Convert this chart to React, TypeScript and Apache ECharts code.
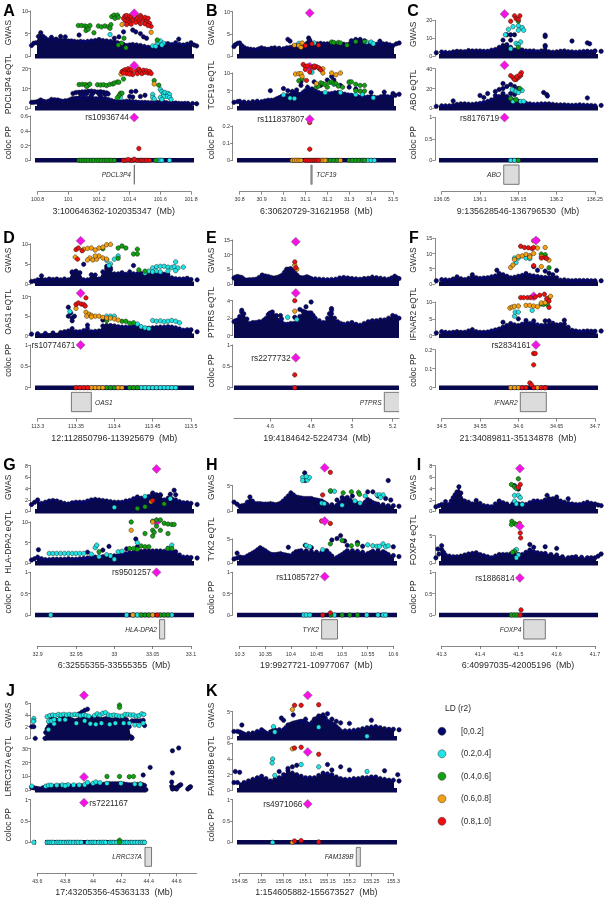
import React, { useEffect, useRef } from "react";
import * as echarts from "echarts";

const at0 = (xs: number[]) => xs.map((x) => [x, 0]);

// ---------- A ----------
const aGMass = [[100.76,2.4],[100.775,2.9],[100.79,3],[100.805,4.4],[100.82,5.2],[100.835,4.4],[100.85,4],[100.87,3.6],[100.89,4.2],[100.905,3.6],[100.92,3.8],[100.935,3.5],[100.95,4.4],[100.965,3.5],[100.98,4.3],[101,3.4],[101.02,3.4],[101.04,3.3],[101.06,3.2],[101.08,3.3],[101.1,3.2],[101.125,3.3],[101.15,3.4],[101.175,3.5],[101.2,3.7],[101.225,3.5],[101.25,3.4],[101.275,3.3],[101.3,3.2],[101.32,3],[101.34,2.8],[101.36,2.6],[101.38,2.4],[101.4,2.5],[101.42,2.6],[101.445,2.5],[101.47,2.4],[101.495,2.2],[101.52,2],[101.545,1.9],[101.57,1.8],[101.595,2.2],[101.62,2.6],[101.635,2.7],[101.65,2.8],[101.675,2.6],[101.7,3],[101.725,2.6],[101.75,2.5],[101.775,2.7],[101.8,3],[101.82,2.5],[101.837,2.3]];
const aGNavy = [[101.07,4.7],[101.36,5.4],[101.42,5.8],[101.44,5.4],[101.47,5],[101.49,4.3],[101.51,4],[101.3,4],[101.33,4.3],[101.72,3.8]];
const aGCyan = [[101.272,4.8],[101.55,2.3],[101.58,2.9],[101.6,3.4],[101.62,2.9],[101.61,2.5],[101.57,2.2]];
const aGGreen = [[101.065,6.8],[101.087,6.8],[101.109,6.7],[101.124,6.5],[101.141,6.8],[101.115,5.7],[101.13,6],[101.167,5.2],[101.196,6.7],[101.217,6.5],[101.239,6.7],[101.261,6.5],[101.278,7],[101.272,6.2],[101.283,8.75],[101.298,9.1],[101.32,9.1],[101.304,8.4],[101.326,8.6],[101.363,4],[101.348,2.9],[101.376,1.9],[101.326,2.5],[101.58,3.6]];
const aGOrange = [[101.35,7],[101.54,5.3]];
const aGRed = [[101.36,8.4],[101.37,8.9],[101.38,9],[101.39,8.2],[101.4,8.9],[101.37,7.9],[101.385,7.6],[101.4,7.4],[101.41,8.6],[101.42,8],[101.43,8.8],[101.44,9.1],[101.45,8.3],[101.46,7.7],[101.47,9],[101.48,8.5],[101.49,8],[101.5,8.6],[101.51,7.9],[101.52,8.4],[101.53,7.3],[101.54,6.6],[101.5,7.2],[101.47,7.2],[101.44,7.5],[101.41,7.1],[101.38,7],[101.52,6.8]];
const aGLead = [[101.43,9.5]];
const aEMass = [[100.76,3],[100.775,3.1],[100.79,3.2],[100.805,3.6],[100.82,4.2],[100.835,3.6],[100.85,3.3],[100.87,3.6],[100.89,4.5],[100.91,4.3],[100.93,4.2],[100.945,3.8],[100.96,3.6],[100.98,3.8],[101,4],[101.015,4.5],[101.03,5],[101.05,5.1],[101.07,5.2],[101.085,5],[101.1,5],[101.12,5.1],[101.14,5.2],[101.16,5],[101.18,4.8],[101.2,4.9],[101.22,5],[101.24,4.8],[101.26,4.5],[101.28,4],[101.3,3.5],[101.32,3.3],[101.34,3.2],[101.36,3.4],[101.38,3.6],[101.4,3.5],[101.42,3.4],[101.44,3.2],[101.46,3],[101.48,3],[101.5,3],[101.52,2.9],[101.54,2.8],[101.56,2.9],[101.58,3],[101.6,3.1],[101.62,3.2],[101.64,2.8],[101.66,2.5],[101.68,2.6],[101.7,2.7],[101.72,2.5],[101.74,2.4],[101.76,2.5],[101.78,2.5],[101.81,2.4],[101.837,2.3]];
const aENavy = [[101.03,7.5],[101.05,8],[101.07,8.1],[101.09,8.3],[101.11,8.4],[101.13,8.6],[101.15,8.7],[101.17,8.5],[101.19,8.2],[101.21,8.4],[101.23,8.1],[101.25,7.8],[101.26,7.3],[101.08,7.2],[101.12,7.4],[101.16,7.6],[101.2,7.3],[101.24,7],[101.1,6.5],[101.15,6.6],[101.21,6.5],[101.41,8.4],[101.44,8.6],[101.42,5.7],[101.47,6],[101.4,6],[101.5,6.6]];
const aECyan = [[101.6,9.5],[101.61,8.5],[101.62,7.5],[101.63,8],[101.65,7.5],[101.66,7],[101.64,6],[101.62,6],[101.6,5.5],[101.61,4.5],[101.66,5.5],[101.55,7],[101.55,5.5],[101.56,4.8],[101.34,5.5],[101.67,4.5]];
const aEGreen = [[101.07,12],[101.09,12.1],[101.11,12],[101.13,11.8],[101.14,12.2],[101.12,11],[101.19,11.9],[101.21,11.8],[101.23,11.9],[101.25,11.5],[101.27,12.1],[101.29,12.3],[101.3,12.8],[101.32,13.3],[101.33,13.2],[101.36,14.8],[101.34,7.6],[101.35,7.6],[101.33,6.4],[101.32,5.3],[101.56,14],[101.59,11.7]];
const aEOrange = [[101.56,12.3],[101.343,17.3]];
const aERed = [[101.35,18.5],[101.36,19],[101.37,19.5],[101.38,18.5],[101.39,20],[101.4,19],[101.41,18],[101.42,17],[101.44,19],[101.45,17.5],[101.46,19.8],[101.47,18.5],[101.48,17.5],[101.49,19.2],[101.5,18.2],[101.51,19],[101.52,17.8],[101.53,18.6],[101.54,17.6],[101.38,17.5],[101.4,17.3],[101.36,17.8],[101.41,19.8]];
const aELead = [[101.43,21.6]];
const aCGreen = at0([101.07,101.085,101.1,101.115,101.13,101.15,101.165,101.185,101.2,101.215,101.235,101.25,101.265,101.28,101.3,101.57]);
const aCCyan = at0([101.585,101.6,101.61,101.66]);
const aCRed = [...at0([101.36,101.375,101.405,101.42,101.45,101.47,101.48,101.495,101.51,101.53]),[101.39,0.012],[101.43,0.015],[101.46,0.16]];
const aCLead = [[101.43,0.58]];

// ---------- B ----------
const bGMass = [[30.774,2.2],[30.78,2.6],[30.79,2.9],[30.8,3],[30.81,2.4],[30.82,2],[30.835,1.7],[30.85,1.6],[30.865,1.5],[30.88,1.5],[30.89,1.7],[30.9,1.9],[30.915,1.7],[30.93,1.6],[30.945,1.8],[30.96,1.9],[30.98,1.8],[31,1.7],[31.015,1.9],[31.03,2],[31.045,2.2],[31.06,2.4],[31.075,2.5],[31.09,2.5],[31.105,2.8],[31.115,3.2],[31.13,2.9],[31.14,2.7],[31.155,2.8],[31.17,2.9],[31.185,2.8],[31.2,2.8],[31.215,2.9],[31.23,2.9],[31.245,2.8],[31.26,2.8],[31.275,2.7],[31.29,2.6],[31.305,2.9],[31.32,3.2],[31.335,3.2],[31.35,3.3],[31.365,3.1],[31.38,2.9],[31.395,2.7],[31.41,2.6],[31.425,2.7],[31.44,2.7],[31.455,2.8],[31.47,2.8],[31.485,2.6],[31.5,2.4],[31.515,2.8],[31.528,3]];
const bGNavy = [[31.02,3.8],[31.03,3.4],[31.115,4.1],[31.12,3.6],[31.31,3.5],[31.33,3.8],[31.35,3.8],[31.37,3.5],[31.44,3.4]];
const bGCyan = [[31.07,2.9],[31.14,3],[31.38,3.2],[31.4,3.2],[31.41,2.8]];
const bGGreen = [[31.22,3.2],[31.23,3.1],[31.25,3.1],[31.26,3],[31.29,2.5],[31.33,3.3],[31.37,3.3]];
const bGOrange = [[31.05,2.5],[31.07,2.4],[31.085,3],[31.08,2]];
const bGRed = [[31.1,2.4],[31.13,2.8],[31.16,2.5]];
const bGLead = [[31.12,9.7]];
const bEMass = [[30.774,1.7],[30.79,1.9],[30.8,2],[30.82,1.8],[30.84,1.7],[30.86,1.9],[30.88,2],[30.9,1.9],[30.915,2.1],[30.93,2.3],[30.945,2.3],[30.96,2.4],[30.97,2.7],[30.98,3],[30.99,3.3],[31,3.5],[31.015,3.6],[31.03,3.7],[31.04,4],[31.05,4.3],[31.065,4.1],[31.08,4],[31.09,4.5],[31.1,5],[31.115,5.2],[31.13,5.5],[31.145,5],[31.16,4.5],[31.175,4.2],[31.19,4],[31.205,4.1],[31.22,4.2],[31.235,4.4],[31.25,4.5],[31.265,4.2],[31.28,4],[31.295,3.8],[31.31,3.7],[31.325,3.5],[31.34,3.3],[31.355,3.2],[31.37,3.1],[31.385,3.2],[31.4,3.3],[31.415,3.1],[31.43,3],[31.445,3.3],[31.46,3.5],[31.475,3.3],[31.49,3.2],[31.51,3.7],[31.528,4]];
const bENavy = [[30.94,5],[31,5.6],[31.02,5],[31.04,4.8],[31.06,5.2],[31.08,6.5],[31.08,7.5],[31.11,6],[31.14,7.5],[31.2,8],[31.22,9],[31.23,8],[31.17,6.5],[31.26,6.5],[31.3,6],[31.33,5.5],[31.4,4.5],[31.46,4.6],[31.5,4.2]];
const bECyan = [[31,3.8],[31.03,2.9],[31.05,2.8],[31.13,10.2],[31.19,4.5],[31.3,7.5],[31.23,6.8],[31.26,4.5],[31.33,3.9],[31.36,4],[31.41,3]];
const bEGreen = [[31.07,7.8],[31.085,8.4],[31.15,6],[31.16,6.3],[31.17,7.2],[31.18,7],[31.19,6.7],[31.2,6],[31.21,7.3],[31.22,7.5],[31.23,7.1],[31.24,7],[31.25,6.3],[31.3,7.3],[31.31,7.5],[31.33,6.8],[31.35,6.5],[31.37,6.5],[31.35,4.9],[31.33,5],[31.37,4.9],[31.27,6]];
const bEOrange = [[31.055,9.7],[31.07,9.8],[31.08,9.8],[31.085,9],[31.165,11.2],[31.18,11.2],[31.18,10],[31.22,10],[31.24,9.5],[31.26,10],[31.15,7]];
const bERed = [[31.09,12.4],[31.1,11.8],[31.11,12],[31.13,11.7],[31.14,11.5],[31.15,11.8],[31.16,11.5],[31.17,10.9],[31.1,11],[31.12,10.3],[31.105,7.9],[31.14,12]];
const bELead = [[31.12,11.8]];
const bCOrange = at0([31.04,31.05,31.06,31.07,31.08,31.17,31.18,31.19,31.26]);
const bCRed = [...at0([31.1,31.11,31.12,31.13,31.14,31.15,31.16]),[31.12,0.065],[31.12,0.22]];
const bCGreen = at0([31.2,31.215,31.23,31.245,31.3,31.315,31.33,31.345,31.36,31.37]);
const bCCyan = at0([31.385,31.4,31.415]);
const bCLead = [[31.12,0.24]];

// ---------- C ----------
const cGMass = [[136.043,2],[136.05,2.4],[136.055,2.2],[136.06,2],[136.065,2.5],[136.07,2.8],[136.075,2.7],[136.08,2.6],[136.085,3.2],[136.09,3],[136.095,3],[136.1,3],[136.105,2.8],[136.11,2.8],[136.115,3.4],[136.12,3.8],[136.125,5],[136.13,6],[136.135,6.5],[136.14,5],[136.145,3.5],[136.15,4],[136.155,3.5],[136.16,3],[136.165,3],[136.17,3],[136.175,2.6],[136.18,3],[136.185,3.5],[136.19,2.5],[136.195,2.3],[136.2,2.5],[136.205,2.8],[136.21,3],[136.215,2.6],[136.22,2.5],[136.225,2.3],[136.23,2.5],[136.235,2.7],[136.24,2.8],[136.245,2.6],[136.25,3],[136.258,2.8]];
const cGNavy = [[136.185,11],[136.185,11.8],[136.185,6],[136.185,5.5],[136.22,8.5],[136.24,7.5],[136.243,7],[136.13,9],[136.135,12],[136.14,12],[136.145,12],[136.14,9]];
const cGCyan = [[136.133,12],[136.137,15],[136.143,16.5],[136.15,17],[136.155,16],[136.157,14.5],[136.15,14.5],[136.147,7.2],[136.153,8],[136.14,4.2],[136.15,6.5]];
const cGGreen = [[136.15,19.5],[136.15,5]];
const cGRed = [[136.14,19.5],[136.145,22.5],[136.147,21],[136.152,22.5],[136.15,20.5]];
const cGLead = [[136.132,23.5]];
const cEMass = [[136.043,2],[136.05,2.5],[136.055,2.5],[136.06,2.5],[136.065,3],[136.07,4],[136.075,4.5],[136.08,4.5],[136.085,4.2],[136.09,4],[136.095,4.5],[136.1,5],[136.105,6],[136.11,7],[136.115,8.5],[136.12,10],[136.125,12],[136.13,15],[136.135,12],[136.14,10],[136.145,8],[136.15,7],[136.155,5],[136.16,5],[136.165,4.5],[136.17,4],[136.175,4.2],[136.18,4.5],[136.185,4.5],[136.19,4.5],[136.195,4],[136.2,3.5],[136.205,3.5],[136.21,3.5],[136.215,3.2],[136.22,3],[136.225,3.2],[136.23,3.5],[136.235,3.2],[136.24,3],[136.245,2.8],[136.25,2.5],[136.258,3]];
const cENavy = [[136.065,7.5],[136.1,13],[136.11,15],[136.105,11],[136.12,17],[136.13,20],[136.13,25],[136.125,19],[136.135,22],[136.14,24],[136.145,22],[136.15,20],[136.12,13],[136.115,8],[136.145,14],[136.183,16],[136.187,14],[136.188,12.5],[136.24,10.5],[136.14,15],[136.13,10]];
const cECyan = [[136.142,19],[136.155,18],[136.147,17],[136.15,16],[136.147,9],[136.153,7],[136.143,7],[136.157,7],[136.14,10]];
const cEGreen = [[136.152,20],[136.14,10],[136.147,8.5]];
const cERed = [[136.14,33],[136.143,31],[136.147,29],[136.15,31],[136.153,33],[136.154,36],[136.145,29],[136.148,32],[136.152,34]];
const cELead = [[136.132,43.5]];
const cCCyan = at0([136.14,136.145]);
const cCGreen = at0([136.15]);
const cCLead = [[136.132,0.995]];

// ---------- D ----------
const dGMass = [[113.292,0.6],[113.296,0.7],[113.3,1],[113.305,2],[113.31,1],[113.315,1.2],[113.32,1.1],[113.325,1.2],[113.33,1],[113.335,1.2],[113.34,1],[113.345,2.8],[113.35,3],[113.355,2.8],[113.36,1],[113.365,1],[113.37,2.3],[113.375,2.2],[113.38,1.2],[113.385,3],[113.39,3.8],[113.395,3.5],[113.4,2.5],[113.405,2.5],[113.41,2.8],[113.415,2.4],[113.42,3],[113.425,2.5],[113.43,2.5],[113.435,2.6],[113.44,2.8],[113.445,3],[113.45,2.8],[113.455,2.5],[113.46,2.6],[113.465,2.4],[113.47,2.3],[113.475,1.5],[113.48,1.3],[113.485,1.2],[113.49,1.2],[113.495,1.4],[113.5,1.1],[113.508,1]];
const dGNavy = [[113.35,3.2],[113.345,3],[113.36,4.9],[113.39,4.4],[113.395,4],[113.425,4.6]];
const dGCyan = [[113.39,5.9],[113.4,6.2],[113.405,7],[113.395,5],[113.393,4.6],[113.44,2.7],[113.445,3.2],[113.45,4],[113.455,4.3],[113.46,4.4],[113.465,4.4],[113.47,4.2],[113.475,4.1],[113.478,4.3],[113.48,5.5],[113.483,4],[113.49,4.2],[113.455,3.2],[113.46,3],[113.47,3.2],[113.48,3.3],[113.45,3]];
const dGGreen = [[113.385,8.8],[113.405,9],[113.41,9.5],[113.415,9],[113.405,6.4],[113.425,7.5],[113.43,8.7],[113.43,7.5],[113.432,3.5],[113.44,3.2]];
const dGOrange = [[113.349,6.7],[113.36,8.7],[113.365,8.9],[113.37,9],[113.375,8.5],[113.38,9],[113.385,9.2],[113.39,9.8],[113.395,9.9],[113.368,6.5],[113.372,6],[113.377,6.2],[113.38,7],[113.385,6.5],[113.365,6],[113.375,7],[113.39,6.2]];
const dGRed = [[113.35,8.6],[113.353,9],[113.358,8.3],[113.352,6.2]];
const dGLead = [[113.356,10.8]];
const dEMass = [[113.292,0.4],[113.3,0.5],[113.31,0.6],[113.32,0.7],[113.33,0.8],[113.335,1],[113.34,1.2],[113.345,1.8],[113.35,1],[113.355,1],[113.36,1.3],[113.365,1.8],[113.37,1],[113.375,1.1],[113.38,1.2],[113.385,2.5],[113.39,2.6],[113.395,2.6],[113.4,2.5],[113.405,2.3],[113.41,2.2],[113.415,2.2],[113.42,2.2],[113.425,2.4],[113.43,2.5],[113.435,2.1],[113.44,1.8],[113.445,1.9],[113.45,2],[113.455,2.1],[113.46,2.2],[113.465,2.2],[113.47,2.3],[113.475,2.2],[113.48,2],[113.485,1.7],[113.49,1.4],[113.495,1.5],[113.5,1.5],[113.508,1]];
const dENavy = [[113.34,7.3],[113.34,5],[113.343,5.8],[113.348,5],[113.345,3.8],[113.345,4.5],[113.365,2.7],[113.385,4],[113.39,4.5]];
const dECyan = [[113.342,6.2],[113.39,5],[113.395,5],[113.4,5],[113.43,3],[113.435,2.3],[113.44,2],[113.445,1.8],[113.45,3.9],[113.455,3.7],[113.46,3.8],[113.465,3.6],[113.47,3.7],[113.475,3.9],[113.48,3.7],[113.485,3.3]];
const dEGreen = [[113.39,3.8],[113.41,3.7],[113.415,3.7],[113.42,3.2],[113.425,3.3]];
const dEOrange = [[113.35,7],[113.363,6],[113.367,5.5],[113.37,5.2],[113.375,5],[113.38,5],[113.385,4.7],[113.39,4.5],[113.395,4.5],[113.4,4.3],[113.405,4],[113.364,5],[113.37,4.8]];
const dERed = [[113.35,8],[113.353,8.4],[113.357,8.1],[113.36,8],[113.362,7.6],[113.363,9.7]];
const dELead = [[113.356,10.9]];
const dCRed = at0([113.35,113.355,113.36,113.365]);
const dCOrange = at0([113.37,113.375,113.38,113.385,113.405,113.41]);
const dCGreen = at0([113.39,113.395,113.4,113.42,113.425,113.43]);
const dCCyan = at0([113.435,113.44,113.445,113.45,113.455,113.46,113.465,113.47,113.475,113.48]);
const dCLead = [[113.356,1]];

// ---------- E ----------
const eGMass = [[4.422,2],[4.43,2.3],[4.44,2.5],[4.45,2.3],[4.46,2.2],[4.47,1.6],[4.48,1.2],[4.49,1.3],[4.5,1.4],[4.515,1.5],[4.53,1.6],[4.545,2.2],[4.56,3],[4.575,2.7],[4.59,2.5],[4.605,2.2],[4.62,2],[4.63,2.1],[4.64,2.3],[4.65,2.6],[4.66,3],[4.67,4],[4.68,5],[4.69,5],[4.7,5.2],[4.71,4.5],[4.72,3.8],[4.73,3],[4.74,2.3],[4.75,2.1],[4.76,2],[4.77,2.2],[4.78,2.4],[4.79,2.1],[4.8,1.8],[4.82,1.7],[4.84,1.6],[4.86,1.5],[4.88,1.4],[4.9,1.5],[4.92,1.6],[4.94,2],[4.96,2.2],[4.98,2],[5,1.8],[5.02,1.7],[5.04,1.6],[5.06,1.8],[5.08,1.9],[5.1,2.3],[5.12,2.1],[5.14,1.9],[5.16,1.7],[5.18,1.6],[5.195,2],[5.21,2.6],[5.22,2.1],[5.231,1.8]];
const eGOrange = [[4.72,6.4],[4.73,5]];
const eGRed = [[4.72,14.5],[4.72,7.5],[4.725,5.5]];
const eGLead = [[4.725,14.4]];
const eEMass = [[4.422,1.6],[4.43,1.7],[4.44,1.8],[4.45,2.2],[4.46,2.7],[4.47,2.5],[4.485,1.9],[4.5,1.4],[4.515,1.5],[4.53,1.5],[4.545,1.6],[4.56,1.6],[4.57,1.8],[4.58,2],[4.59,2.4],[4.6,2.6],[4.61,2.4],[4.62,2.2],[4.63,1.9],[4.64,1.7],[4.655,1.5],[4.67,1.3],[4.685,1.3],[4.7,1.4],[4.715,1.4],[4.73,1.5],[4.745,2.2],[4.76,2.8],[4.77,2.7],[4.78,2.6],[4.79,2.6],[4.8,2.6],[4.81,2.3],[4.82,2],[4.84,1.7],[4.86,1.5],[4.88,2],[4.9,2.5],[4.915,2],[4.93,1.6],[4.945,1.4],[4.96,1.3],[4.98,1.4],[5,1.5],[5.02,1.3],[5.04,1.2],[5.06,1.4],[5.08,1.6],[5.1,1.7],[5.12,1.7],[5.14,1.8],[5.16,1.8],[5.18,2],[5.2,2.3],[5.215,2.2],[5.231,2]];
const eENavy = [[4.61,2.7],[4.595,2.5],[4.63,2.3],[4.65,2.3],[4.655,1.9],[4.72,2.1],[4.745,3],[4.775,3.3],[4.8,3.85],[4.9,3.1],[4.9,2.9],[4.89,2.5],[4.46,2.9]];
const eECyan = [[4.685,2.1],[4.73,1.85]];
const eEOrange = [[4.72,2.8]];
const eERed = [[4.72,4]];
const eELead = [[4.725,4.88]];
const eCRed = [[4.72,0],[4.72,0.3]];
const eCLead = [[4.725,0.7]];

// ---------- F ----------
const fGMass = [[34.493,1],[34.5,1.4],[34.505,1.3],[34.51,1.2],[34.515,1.6],[34.52,2.3],[34.525,1.7],[34.53,1.4],[34.535,1.8],[34.54,2.3],[34.545,2],[34.55,1.8],[34.555,1.9],[34.56,2],[34.565,2.3],[34.57,2.6],[34.575,3.4],[34.58,3],[34.585,2.5],[34.59,2],[34.595,2.2],[34.6,2.5],[34.605,2.8],[34.61,3],[34.615,2.8],[34.62,2.6],[34.625,2.4],[34.63,2.2],[34.635,2.1],[34.64,2],[34.645,2],[34.65,2],[34.655,1.2],[34.66,1.3],[34.665,1.1],[34.67,1],[34.675,1.1],[34.68,1.1],[34.685,1.1],[34.69,1.1],[34.695,1],[34.7,1],[34.708,1]];
const fGNavy = [[34.572,4.5],[34.54,3],[34.625,4.5],[34.635,4.2],[34.64,3.5],[34.645,3],[34.65,4.4],[34.61,3.4],[34.62,5.7]];
const fGCyan = [[34.595,8.5],[34.597,7],[34.6,8.5],[34.61,8.5],[34.615,8.3]];
const fGGreen = [[34.63,9.8],[34.635,9.6],[34.64,5.3]];
const fGOrange = [[34.59,5.4],[34.593,6.2],[34.595,8],[34.6,9],[34.605,9.2],[34.61,9.7],[34.615,9.3],[34.62,10],[34.625,11.8],[34.635,12],[34.63,9],[34.64,7.8],[34.63,5.7],[34.615,8.8]];
const fGRed = [[34.603,12.4],[34.608,12],[34.613,11.9],[34.618,11.6],[34.62,14.2],[34.625,14.4],[34.62,6],[34.63,8.5],[34.635,8.6],[34.637,8.4],[34.62,12]];
const fGLead = [[34.623,14.3]];
const fEMass = [[34.493,0.8],[34.5,1.2],[34.505,1],[34.51,0.9],[34.515,1],[34.52,1.2],[34.525,1],[34.53,1],[34.535,1.4],[34.54,1.8],[34.545,1.2],[34.55,1],[34.555,1],[34.56,1.1],[34.565,1.4],[34.57,1.7],[34.575,2],[34.58,2.5],[34.585,3],[34.59,3.6],[34.595,3.2],[34.6,3],[34.605,3.4],[34.61,3.8],[34.615,3.6],[34.62,3.5],[34.625,3.2],[34.63,3],[34.635,3.1],[34.64,3.2],[34.645,3.2],[34.65,3.2],[34.655,3.3],[34.66,3.5],[34.665,2.5],[34.67,1.6],[34.675,1.4],[34.68,1.2],[34.685,1.3],[34.69,1.4],[34.695,1.3],[34.7,1.3],[34.708,1.4]];
const fENavy = [[34.58,4],[34.6,5],[34.61,4.5],[34.62,4.4],[34.635,4.4],[34.64,4.4],[34.66,4.6],[34.645,3.7]];
const fECyan = [[34.595,5.8],[34.596,7],[34.6,7],[34.618,7.5]];
const fEGreen = [[34.63,9.4],[34.633,9.3],[34.638,9.2]];
const fEOrange = [[34.589,8.2],[34.592,8.5],[34.595,8.7],[34.6,8.8],[34.61,9],[34.615,9],[34.62,8.8],[34.63,9.7],[34.64,11.2],[34.642,11.7],[34.635,9.8],[34.625,8.6]];
const fERed = [[34.603,11.3],[34.607,11.3],[34.612,11.3],[34.616,11.3],[34.622,11.5],[34.628,12],[34.634,12.3],[34.637,11],[34.64,10.3],[34.64,8.4]];
const fELead = [[34.62,11.7]];
const fCOrange = at0([34.59,34.595,34.6,34.625,34.635]);
const fCRed = [...at0([34.605,34.61,34.62,34.63,34.635]),[34.62,0.18],[34.622,0.18],[34.62,0.12],[34.615,0.025],[34.617,0.015]];
const fCLead = [[34.623,0.225]];

// ---------- G ----------
const gGMass = [[32.892,1.2],[32.896,1.6],[32.9,2],[32.905,1.4],[32.91,1.6],[32.915,1.8],[32.92,1.9],[32.925,1.8],[32.93,1.6],[32.935,1.4],[32.94,1.3],[32.945,1.5],[32.95,1.6],[32.955,1.6],[32.96,1.6],[32.965,1.8],[32.97,2],[32.975,2.1],[32.98,2],[32.985,1.9],[32.99,1.8],[32.995,1.7],[33,1.6],[33.005,1.6],[33.01,1.6],[33.015,1.8],[33.02,1.9],[33.025,2.2],[33.03,2.4],[33.035,2.3],[33.04,2.3],[33.045,2.6],[33.05,3],[33.055,2.9],[33.06,2.8],[33.065,2],[33.07,2.3],[33.075,2.2],[33.08,2],[33.085,1.7],[33.09,1.5],[33.095,1.5],[33.1,1.4],[33.108,1.2]];
const gGNavy = [[33.078,3.7],[33.073,3],[33.05,3.2],[33.06,2.9],[33.03,2.5],[33.08,2.9]];
const gGCyan = [[33.04,2.6],[33.073,2.2],[33,0.7]];
const gGGreen = [[33.04,0.8],[33.065,1.3],[33.03,0.5]];
const gGOrange = [[33.048,1.7]];
const gGRed = [[33.05,1.9]];
const gGLead = [[33.055,7.4]];
const gEMass = [[32.892,0.8],[32.896,1.1],[32.9,1.5],[32.905,1.1],[32.91,0.9],[32.915,0.9],[32.92,1],[32.925,1],[32.93,1],[32.935,1],[32.94,1.1],[32.945,1],[32.95,1],[32.955,1.1],[32.96,1.2],[32.965,1.3],[32.97,1.5],[32.975,1.5],[32.98,1.5],[32.985,1.6],[32.99,1.8],[32.995,1.8],[33,1.8],[33.005,1.9],[33.01,2],[33.015,2.3],[33.02,2.6],[33.025,2.7],[33.03,2.8],[33.035,2.9],[33.04,3],[33.045,3],[33.05,3],[33.055,3],[33.06,3],[33.065,2.9],[33.07,2.8],[33.075,2.8],[33.08,2.8],[33.085,2],[33.09,1.5],[33.095,1.5],[33.1,1.4],[33.108,1.3]];
const gENavy = [[32.901,3.3],[32.965,2.7],[32.985,3.2],[32.993,4.1],[33.016,3.5],[33.03,4],[33.028,5.9]];
const gECyan = [[32.915,2.4],[32.92,2.4],[32.925,2.4],[32.93,2.4],[32.935,2.4],[32.94,2.4],[32.945,2.4],[32.95,2.4],[32.955,2.4],[32.96,2.4],[32.97,2.2],[32.975,3.8],[32.977,4.4],[32.98,1.6],[32.99,2.1],[32.995,1.8],[33.005,2.8],[33.01,2.9],[33.03,5],[33.075,4.4],[33.07,3.6],[33,1]];
const gEGreen = [[33.022,10],[33.02,3.6],[33.025,3.6],[33.03,3.4],[33.035,4.2],[33.04,4],[33.045,4],[33.05,8],[33.052,7.5],[33.05,6.6],[33.055,9],[33.05,10.2],[33.055,10.5],[33.06,10.5],[33.065,9.7],[33.07,9.5],[33.075,9.4],[33.078,9.4],[33.07,7.2],[33.04,7.2],[33.06,8],[32.98,2.8],[33.07,3.6],[33.075,3.6]];
const gEOrange = [[33.022,8],[33.05,10]];
const gELead = [[33.055,10]];
const gCCyan = at0([32.917,33.016,33.025,33.03,33.075]);
const gCGreen = at0([33.035,33.04,33.045,33.06,33.065,33.07]);
const gCOrange = at0([33.024,33.05]);
const gCRed = at0([33.056]);
const gCLead = [[33.055,1]];

// ---------- H ----------
const hGMass = [[10.289,1.8],[10.295,1.4],[10.3,1],[10.305,1.1],[10.31,1.2],[10.315,1.8],[10.32,2.8],[10.325,2],[10.33,1.5],[10.335,1.5],[10.34,1.5],[10.345,1.4],[10.35,1.4],[10.355,1.4],[10.36,1.5],[10.365,1.4],[10.37,1.3],[10.375,1.4],[10.38,1.6],[10.385,2],[10.39,2.5],[10.395,3],[10.4,3.6],[10.405,3.2],[10.41,2.8],[10.415,2.7],[10.42,2.6],[10.425,2.5],[10.43,2.5],[10.435,2.5],[10.44,2.5],[10.445,2.3],[10.45,2.2],[10.455,2.1],[10.46,2],[10.465,1.7],[10.47,1.4],[10.48,1.3],[10.49,1.2],[10.495,1.6],[10.5,2],[10.505,2.4],[10.51,2.7],[10.515,2.2],[10.52,1.8],[10.53,1.5],[10.54,1.3],[10.545,1.8],[10.55,2.3],[10.555,2],[10.56,1.7],[10.565,1.5],[10.57,1.4],[10.58,1.3],[10.59,1.1],[10.6,1.1],[10.611,1]];
const hGNavy = [[10.427,7.5],[10.428,6],[10.49,2.2],[10.5,2.7],[10.52,3],[10.55,3.8],[10.56,3.8],[10.59,6],[10.585,2.5],[10.595,2.2],[10.57,3]];
const hGCyan = [[10.423,6.6],[10.423,6],[10.432,6.1],[10.436,6.6],[10.43,6.8],[10.478,3.9],[10.485,3.9],[10.46,1.6],[10.465,1.5],[10.5,1.2],[10.545,3],[10.568,3.2],[10.573,3.2],[10.58,3.2],[10.575,2.7],[10.525,2],[10.535,1.6]];
const hGGreen = [[10.477,4],[10.502,3.6],[10.518,3.8],[10.532,3.7],[10.534,3.3]];
const hGRed = [[10.477,7.6],[10.462,3.2]];
const hGLead = [[10.466,8.5]];
const hEMass = [[10.289,0.9],[10.295,1.1],[10.3,1.3],[10.305,1.2],[10.31,1.2],[10.315,1.5],[10.32,1.8],[10.325,2.1],[10.33,2.4],[10.335,2.8],[10.34,3.2],[10.345,2.9],[10.35,2.6],[10.355,2.2],[10.36,1.9],[10.365,1.8],[10.37,1.8],[10.375,1.9],[10.38,2],[10.385,1.8],[10.39,1.7],[10.395,1.6],[10.4,1.5],[10.405,2],[10.41,2.4],[10.415,2.5],[10.42,2.6],[10.43,2.6],[10.44,2.4],[10.45,2.3],[10.46,2.2],[10.465,2.4],[10.47,2.6],[10.475,2],[10.48,1.5],[10.49,1.2],[10.495,1.5],[10.5,1.8],[10.505,2.2],[10.51,2.6],[10.52,2.6],[10.53,2.5],[10.54,2.3],[10.55,2],[10.555,2.2],[10.56,2.5],[10.57,2.6],[10.58,2.4],[10.585,2.1],[10.59,1.8],[10.6,1.6],[10.611,1.4]];
const hENavy = [[10.295,2.1],[10.395,3.3],[10.428,3.7],[10.49,5.1],[10.497,5.7],[10.48,4.8],[10.51,3.7],[10.505,4.6],[10.53,4.3],[10.54,3.5],[10.6,3.4],[10.44,3.2]];
const hECyan = [[10.43,3.7],[10.437,3.4],[10.462,2.8],[10.55,3.8],[10.56,3.6],[10.568,3.5],[10.573,3.5],[10.58,4],[10.585,3.4],[10.59,3.6]];
const hEGreen = [[10.477,4],[10.5,4.7],[10.518,3.6],[10.53,3.9]];
const hERed = [[10.46,8.7],[10.477,8.2]];
const hELead = [[10.466,8.7]];
const hCCyan = at0([10.425,10.43,10.437,10.485,10.548,10.57,10.58,10.585]);
const hCGreen = at0([10.478,10.5,10.515,10.53]);
const hCRed = [[10.462,0],[10.477,0.05]];
const hCLead = [[10.466,0.9]];

// ---------- I ----------
const iGMass = [[41.285,0.8],[41.293,1],[41.3,1.2],[41.31,1.7],[41.32,1.2],[41.325,1.8],[41.33,2.4],[41.335,2.9],[41.34,3.4],[41.345,4.3],[41.35,3.2],[41.36,1.8],[41.37,1.6],[41.38,1.3],[41.39,1.9],[41.4,1.4],[41.41,1],[41.42,0.9],[41.43,0.8],[41.44,1.3],[41.45,1.8],[41.46,1.5],[41.47,1.3],[41.485,1.3],[41.5,1.3],[41.51,1.3],[41.52,1.2],[41.53,1.5],[41.54,1.8],[41.55,1.8],[41.56,1.7],[41.57,2],[41.58,2.2],[41.59,2.2],[41.6,2.1],[41.61,1.8],[41.62,1.6],[41.63,1.4],[41.64,1.3],[41.65,1.2],[41.66,1.2],[41.67,1.4],[41.68,1.6],[41.69,1.4],[41.7,1.3],[41.708,1.1],[41.716,1]];
const iGNavy = [[41.575,2.8],[41.6,2.5],[41.63,2.2],[41.49,4.5],[41.5,3.9]];
const iGCyan = [[41.49,2.8],[41.5,2.8],[41.505,2.4],[41.49,1.8],[41.495,1.3],[41.51,1.2]];
const iGGreen = [[41.482,4.7],[41.49,4.3],[41.5,5.7],[41.495,4]];
const iGRed = [[41.505,4.7],[41.5,4.2]];
const iGLead = [[41.504,7.5]];
const iEMass = [[41.285,1],[41.293,1.7],[41.3,2.5],[41.305,2],[41.31,1.5],[41.32,1.3],[41.33,1.2],[41.34,1.2],[41.35,1.3],[41.36,1.5],[41.37,1.7],[41.38,1.8],[41.39,1.9],[41.4,1.6],[41.41,1.4],[41.42,1.2],[41.43,1],[41.44,1.3],[41.45,1.6],[41.46,1.6],[41.47,1.6],[41.48,1.7],[41.49,1.7],[41.5,1.6],[41.51,1.6],[41.52,2],[41.53,2.4],[41.54,2.1],[41.55,1.9],[41.56,1.8],[41.57,1.8],[41.585,1.6],[41.6,1.5],[41.615,1.2],[41.63,1],[41.64,1.1],[41.65,1.2],[41.665,1.1],[41.68,1],[41.69,1],[41.7,1],[41.708,1.3],[41.716,1.7]];
const iENavy = [[41.3,3.2],[41.29,2.6],[41.53,3.4],[41.54,2.9],[41.57,3],[41.6,2.7]];
const iECyan = [[41.495,2.5],[41.5,1.5],[41.495,1]];
const iEGreen = [[41.483,7.6],[41.49,7.2],[41.482,7],[41.495,7],[41.49,2.2],[41.485,2]];
const iERed = [[41.503,7.2],[41.505,5.5],[41.506,4.6]];
const iELead = [[41.504,6.7]];
const iCGreen = at0([41.482,41.49,41.497]);
const iCRed = [[41.505,0],[41.507,0.12]];
const iCLead = [[41.504,0.87]];

// ---------- J ----------
const jGStrip = [[43.555,0],[43.582,0],[43.63,"-"],[43.655,0],[44.26,0]];
const jGMass = [[43.56,2],[43.575,2],[43.585,0],[43.655,0],[43.66,1],[43.67,1.6],[43.68,2],[43.69,2.6],[43.7,3.6],[43.71,3.4],[43.72,3.2],[43.73,3.1],[43.74,3],[43.75,3.1],[43.76,3.2],[43.77,3.3],[43.78,3.4],[43.79,3.4],[43.8,3.4],[43.81,3.4],[43.82,3.4],[43.83,3.3],[43.84,3.2],[43.85,3.1],[43.86,3],[43.87,3],[43.88,3],[43.89,3.1],[43.9,3.2],[43.91,3.3],[43.92,3.4],[43.93,3.4],[43.94,3.5],[43.95,3.4],[43.96,3.4],[43.97,3.4],[43.98,3.4],[43.99,3.4],[44,3.5],[44.01,3.4],[44.02,3.4],[44.03,3.3],[44.04,3.3],[44.05,3.2],[44.06,3.2],[44.07,3.2],[44.08,3.3],[44.09,3.3],[44.1,3.4],[44.11,3.3],[44.12,3.2],[44.13,3.1],[44.14,3],[44.15,3.1],[44.16,3.2],[44.17,3.2],[44.18,3.2],[44.19,3.2],[44.2,3.2],[44.21,3.2],[44.22,3.3],[44.23,3.2],[44.24,3.2],[44.25,2.8],[44.26,2],[44.27,0.3],[44.275,0]];
const jGNavy = [[43.9,4.2],[43.92,4.5],[43.94,4.8],[43.96,5],[44.28,0.1],[44.28,3],[44.3,3],[44.32,3],[44.34,3],[44.36,3.1],[44.37,2.2]];
const jGCyan = [[43.575,3.4],[43.575,3],[43.57,2.9],[43.67,3.7],[43.69,3.9],[43.71,4],[43.73,3.9],[43.75,4.1],[43.77,4],[43.79,4.1],[43.81,4],[43.83,4.1],[43.85,4],[43.87,4.1],[43.89,4],[43.91,3.9],[43.93,4],[43.95,3.9],[43.97,3.8],[44.01,3.9],[44.03,4.2],[44.05,4],[44.07,4.3],[44.09,4.4],[44.11,4],[44.13,3.9],[44.15,4],[44.17,3.9],[44.19,3.8],[44.21,3.8],[44.23,4.1],[44.25,4.1],[44.27,4],[44.29,4],[44.31,3.8],[44.33,3.9],[44.35,4.2],[44.365,4.1],[43.68,2.9],[43.7,3],[43.72,2.5],[43.68,1.5],[43.72,3.2],[43.76,3.2],[43.8,3.2],[43.88,2.6],[43.94,3],[43.98,2.5],[44.02,2.4],[44.06,2.6],[44.12,2.4],[44.16,2.6],[44.22,2.6],[44.26,2.6],[44.3,2.3],[44.33,2.2],[44.36,2.6]];
const jGGreen = [[44.19,5.7],[44.19,5.3]];
const jGLead = [[43.935,7.37]];
const jEStrip = [[43.559,0],[44.38,0]];
const jEMass = [[43.56,2],[43.575,1.8],[43.59,1.5],[43.605,1.2],[43.62,1],[43.64,1.8],[43.66,2.5],[43.68,2.8],[43.7,3],[43.72,3],[43.74,3],[43.76,3.2],[43.78,3.4],[43.8,3.2],[43.82,3],[43.84,3],[43.86,3],[43.88,3.1],[43.9,3.2],[43.92,3.3],[43.94,3.4],[43.96,3.5],[43.98,3.6],[44,3.7],[44.02,3.8],[44.04,3.9],[44.06,4],[44.08,4.4],[44.1,4.8],[44.12,4.8],[44.14,4.8],[44.16,4.8],[44.18,4.8],[44.2,4.7],[44.22,4.6],[44.24,4.3],[44.26,4],[44.28,4],[44.3,4],[44.32,4.2],[44.34,4.5],[44.355,4],[44.37,3.5],[44.38,0.5]];
const jENavy = [[44.36,11],[44.41,16.5],[44.57,28.5],[44.615,30.5],[44.57,12.5],[44.565,6],[44.565,3],[44.57,2],[44.58,1.5],[44.59,1.5],[44.6,2],[44.61,2.5],[44.62,3.5],[44.63,4],[44.68,1],[44.69,1.8],[44.7,2.6],[44.695,2.2],[44.57,1],[44.6,1]];
const jECyan = [[43.56,3],[43.66,3],[43.68,3.6],[43.7,3.7],[43.74,3.7],[43.78,3.8],[43.82,4],[43.86,3.8],[43.9,3.8],[43.94,4],[43.96,5.6],[44,5],[44.02,6],[44.05,5.5],[44.1,5],[44.2,5],[44.3,4.5],[43.8,3.2],[44.34,4.4]];
const jEGreen = [[44.1,10],[44.19,10],[44.26,9.8],[44.29,10]];
const jELead = [[43.935,9.6]];
const jCStrip = [[43.56,0],[43.59,0],[43.62,"-"],[43.655,0],[44.38,0]];
const jCCyan = at0([43.575,43.67,43.685,43.7,43.715,43.74,43.755,43.77,43.79,43.81,43.825,43.84,43.86,43.88,43.895,43.915,43.96,43.985,44,44.015,44.04,44.06,44.075,44.09,44.12,44.135,44.15,44.17,44.21,44.23,44.245,44.265,44.28,44.3,44.32,44.34,44.355,44.37]);
const jCGreen = [[44.19,0.05],[44.19,0]];
const jCLead = [[43.935,0.93]];

// ---------- K ----------
const kGMass = [[154.937,1.3],[154.945,1.3],[154.95,1.2],[154.955,1],[154.96,0.8],[154.97,0.9],[154.98,1],[154.99,1.3],[155,1.6],[155.005,1.3],[155.01,1],[155.02,1.2],[155.025,1.4],[155.03,1.6],[155.04,1.6],[155.05,1.6],[155.055,2],[155.06,2.5],[155.065,2.6],[155.07,2.8],[155.075,2.9],[155.08,3],[155.085,3.1],[155.09,3.2],[155.095,3.1],[155.1,3],[155.105,2.7],[155.11,2.5],[155.115,3],[155.12,3.6],[155.125,3.7],[155.13,3.8],[155.135,4.1],[155.14,4.4],[155.145,3.8],[155.15,3.2],[155.155,3],[155.16,2.8],[155.165,2.5],[155.17,2.2],[155.175,1.8],[155.18,1.4],[155.19,1.4],[155.2,1.4],[155.21,1.5],[155.22,1.6],[155.23,1.8],[155.24,2],[155.25,2.1],[155.26,2.2],[155.27,2],[155.28,1.8],[155.29,1.7],[155.3,1.7],[155.313,1.6]];
const kGNavy = [[154.955,2.5],[155.045,3.8],[155.05,3.4],[155.072,4.4],[155.1,3.6],[155.13,4.2],[155.15,4.6],[155.16,3.6],[155.18,2.9],[155.2,2.8],[155.25,3.4],[155.17,3.2]];
const kGCyan = [[155.027,2.2],[155.03,1.2],[155.13,2.1],[155.24,0.4]];
const kGOrange = [[155.07,5.4]];
const kGRed = [[155.075,6.2],[155.09,6.2],[155.13,6.3]];
const kGLead = [[155.105,8.06]];
const kEMass = [[154.937,1],[154.945,1],[154.96,1],[154.97,1.2],[154.98,1.4],[154.99,1.6],[155,1.8],[155.01,1.5],[155.02,1.2],[155.03,1.4],[155.04,1.6],[155.05,2],[155.06,2.5],[155.07,2.2],[155.08,2],[155.09,1.8],[155.1,1.6],[155.11,1.6],[155.12,1.6],[155.13,1.9],[155.14,2.2],[155.15,2.1],[155.16,2],[155.17,1.7],[155.18,1.5],[155.19,1.4],[155.2,1.4],[155.21,1.5],[155.22,1.5],[155.23,1.6],[155.24,1.6],[155.25,1.7],[155.26,1.7],[155.27,1.5],[155.28,1.4],[155.29,1.3],[155.3,1.3],[155.313,1.2]];
const kENavy = [[154.94,2.4],[154.95,2.3],[155.04,2.4],[155.06,2.8],[155.07,3],[155.08,3.2],[155.15,3.3],[155.16,2.6],[155.18,3],[155.2,2.6],[155.28,2.5],[155.31,2]];
const kECyan = [[155.025,4],[155.024,3.5],[155.09,3.3],[155.13,3],[155.24,2.4],[155.03,1.9]];
const kEOrange = [[155.07,5.3]];
const kERed = [[155.075,5.4],[155.09,5.5],[155.13,4.6]];
const kELead = [[155.105,4.9]];
const kCCyan = at0([155.025]);
const kCOrange = at0([155.07]);
const kCRed = [[155.075,0.03],[155.09,0.04],[155.13,0.01]];
const kCLead = [[155.105,0.9]];

// ---------- Legend ----------
const bands = ["[0,0.2]", "(0.2,0.4]", "(0.4,0.6]", "(0.6,0.8]", "(0.8,1.0]"];
const bandColors = ["#05056e", "#1fe6e6", "#12a012", "#f5a010", "#ee1010"];
const MAGENTA = "#f810e8";
const MASS = "#08084e";
const INK = "#2a2a2a";
const FONT = "Liberation Sans";

type Track = { mass?: any[]; navy?: any[]; cyan?: any[]; green?: any[]; orange?: any[]; red?: any[]; lead: any[]; strip?: any[] };

// Layout in "zoom units" (3 per page pixel), relative to each panel's cell.
const rows = [
  { by: 0, g: 169, e: 325, c: 481, line: 575, gt: 495, gb: 553, title: 632 },
  { by: 225, g: 176.5, e: 332, c: 488, line: 581, gt: 502, gb: 560, title: 638 },
  { by: 450, g: 184, e: 340, c: 495, line: 588, gt: 509, gb: 567, title: 646 },
  { by: 675, g: 190, e: 346, c: 502, line: 595, gt: 517, gb: 574, title: 652 },
];
const cols = [
  { bx: 0, axis: 92, label: 25 },
  { bx: 200, axis: 98, label: 33 },
  { bx: 400, axis: 104.5, label: 40 },
];

const panels: any[] = [
  { letter: "A", r: 0, c: 0, lx: 10, ly: 32, zL: 113, zR: 573, xMin: 100.8, xMax: 101.8, xTicks: [100.8, 101, 101.2, 101.4, 101.6, 101.8], pMin: 100.76, pMax: 101.837, title: "3:100646362-102035347  (Mb)", tc: 341,
    gene: { name: "PDCL3P4", s: 101.43, e: 101.4305, side: "left", textZ: 393 }, rs: "rs10936744", rsSide: "left",
    tracks: [
      { name: "GWAS", top: 33, max: 10, ticks: [0, 5, 10], cy: 98, d: { mass: aGMass, navy: aGNavy, cyan: aGCyan, green: aGGreen, orange: aGOrange, red: aGRed, lead: aGLead } },
      { name: "PDCL3P4 eQTL", top: 206, max: 20, ticks: [0, 10, 20], cy: 252, d: { mass: aEMass, navy: aENavy, cyan: aECyan, green: aEGreen, orange: aEOrange, red: aERed, lead: aELead } },
      { name: "coloc PP", top: 348, max: 0.6, ticks: [0, 0.2, 0.4, 0.6], cy: 428, d: { cyan: aCCyan, green: aCGreen, red: aCRed, lead: aCLead } },
    ] },
  { letter: "B", r: 0, c: 1, lx: 18, ly: 32, zL: 119, zR: 579, xMin: 30.8, xMax: 31.5, xTicks: [30.8, 30.9, 31, 31.1, 31.2, 31.3, 31.4, 31.5], pMin: 30.774, pMax: 31.528, title: "6:30620729-31621958  (Mb)", tc: 349,
    gene: { name: "TCF19", s: 31.125, e: 31.131, side: "right", textZ: 349, grey: true }, rs: "rs111837807", rsSide: "left",
    tracks: [
      { name: "GWAS", top: 35, max: 10, ticks: [0, 5, 10], cy: 98, d: { mass: bGMass, navy: bGNavy, cyan: bGCyan, green: bGGreen, orange: bGOrange, red: bGRed, lead: bGLead } },
      { name: "TCF19 eQTL", top: 219, max: 10, ticks: [0, 5, 10], cy: 255, under: true, d: { mass: bEMass, navy: bENavy, cyan: bECyan, green: bEGreen, orange: bEOrange, red: bERed, lead: bELead } },
      { name: "coloc PP", top: 378, max: 0.2, ticks: [0, 0.1, 0.2], cy: 428, d: { cyan: bCCyan, green: bCGreen, orange: bCOrange, red: bCRed, lead: bCLead } },
    ] },
  { letter: "C", r: 0, c: 2, lx: 22, ly: 32, zL: 125, zR: 585, xMin: 136.05, xMax: 136.25, xTicks: [136.05, 136.1, 136.15, 136.2, 136.25], pMin: 136.043, pMax: 136.258, title: "9:135628546-136796530  (Mb)", tc: 354,
    gene: { name: "ABO", s: 136.131, e: 136.151, side: "left", textZ: 303 }, rs: "rs8176719", rsSide: "left",
    tracks: [
      { name: "GWAS", top: 61, max: 20, ticks: [0, 10, 20], cy: 103, d: { mass: cGMass, navy: cGNavy, cyan: cGCyan, green: cGGreen, red: cGRed, lead: cGLead } },
      { name: "ABO eQTL", top: 206, max: 40, ticks: [0, 20, 40], cy: 270, d: { mass: cEMass, navy: cENavy, cyan: cECyan, green: cEGreen, red: cERed, lead: cELead } },
      { name: "coloc PP", top: 352, max: 1, ticks: [0, 0.5, 1], cy: 428, d: { cyan: cCCyan, green: cCGreen, lead: cCLead } },
    ] },
  { letter: "D", r: 1, c: 0, lx: 10, ly: 37, zL: 113, zR: 573, xMin: 113.3, xMax: 113.5, xTicks: [113.3, 113.35, 113.4, 113.45, 113.5], pMin: 113.292, pMax: 113.508, title: "12:112850796-113925679  (Mb)", tc: 343,
    gene: { name: "OAS1", s: 113.344, e: 113.37, side: "right", textZ: 285 }, rs: "rs10774671", rsSide: "left",
    tracks: [
      { name: "GWAS", top: 57, max: 10, ticks: [0, 5, 10], cy: 106, d: { mass: dGMass, navy: dGNavy, cyan: dGCyan, green: dGGreen, orange: dGOrange, red: dGRed, lead: dGLead } },
      { name: "OAS1 eQTL", top: 215, max: 10, ticks: [0, 5, 10], cy: 261, d: { mass: dEMass, navy: dENavy, cyan: dECyan, green: dEGreen, orange: dEOrange, red: dERed, lead: dELead } },
      { name: "coloc PP", top: 360, max: 1, ticks: [0, 0.5, 1], cy: 406, d: { cyan: dCCyan, green: dCGreen, orange: dCOrange, red: dCRed, lead: dCLead } },
    ] },
  { letter: "E", r: 1, c: 1, lx: 18, ly: 37, zL: 102, zR: 597, xMin: 4.422, xMax: 5.231, xTicks: [4.6, 4.8, 5, 5.2], pMin: 4.422, pMax: 5.231, title: "19:4184642-5224734  (Mb)", tc: 351,
    gene: { name: "PTPRS", s: 5.159, e: 5.3, side: "left", textZ: 545 }, rs: "rs2277732", rsSide: "left",
    tracks: [
      { name: "GWAS", top: 45, max: 15, ticks: [0, 5, 10, 15], cy: 106, d: { mass: eGMass, orange: eGOrange, red: eGRed, lead: eGLead } },
      { name: "PTPRS eQTL", top: 227, max: 4, ticks: [0, 2, 4], cy: 262, d: { mass: eEMass, navy: eENavy, cyan: eECyan, orange: eEOrange, red: eERed, lead: eELead } },
      { name: "coloc PP", top: 360, max: 1, ticks: [0, 0.5, 1], cy: 437, d: { red: eCRed, lead: eCLead } },
    ] },
  { letter: "F", r: 1, c: 2, lx: 27, ly: 37, zL: 125, zR: 585, xMin: 34.5, xMax: 34.7, xTicks: [34.5, 34.55, 34.6, 34.65, 34.7], pMin: 34.493, pMax: 34.708, title: "21:34089811-35134878  (Mb)", tc: 354,
    gene: { name: "IFNAR2", s: 34.6026, e: 34.6365, side: "left", textZ: 353 }, rs: "rs2834161", rsSide: "left",
    tracks: [
      { name: "GWAS", top: 40, max: 15, ticks: [0, 5, 10, 15], cy: 105, d: { mass: fGMass, navy: fGNavy, cyan: fGCyan, green: fGGreen, orange: fGOrange, red: fGRed, lead: fGLead } },
      { name: "IFNAR2 eQTL", top: 231, max: 10, ticks: [0, 5, 10], cy: 267, under: true, d: { mass: fEMass, navy: fENavy, cyan: fECyan, green: fEGreen, orange: fEOrange, red: fERed, lead: fELead } },
      { name: "coloc PP", top: 374, max: 0.2, ticks: [0, 0.1, 0.2], cy: 436, d: { orange: fCOrange, red: fCRed, lead: fCLead } },
    ] },
  { letter: "G", r: 2, c: 0, lx: 10, ly: 43, zL: 113, zR: 573, xMin: 32.9, xMax: 33.1, xTicks: [32.9, 32.95, 33, 33.05, 33.1], pMin: 32.892, pMax: 33.108, title: "6:32555355-33555355  (Mb)", tc: 342,
    gene: { name: "HLA-DPA2", s: 33.059, e: 33.0657, side: "left", textZ: 471 }, rs: "rs9501257", rsSide: "left",
    tracks: [
      { name: "GWAS", top: 47, max: 8, ticks: [0, 2, 4, 6, 8], cy: 112, d: { mass: gGMass, navy: gGNavy, cyan: gGCyan, green: gGGreen, orange: gGOrange, red: gGRed, lead: gGLead } },
      { name: "HLA-DPA2 eQTL", top: 216, max: 10, ticks: [0, 5, 10], cy: 276, under: true, d: { mass: gEMass, navy: gENavy, cyan: gECyan, green: gEGreen, orange: gEOrange, lead: gELead } },
      { name: "coloc PP", top: 367, max: 1, ticks: [0, 0.5, 1], cy: 441, d: { cyan: gCCyan, green: gCGreen, orange: gCOrange, red: gCRed, lead: gCLead } },
    ] },
  { letter: "H", r: 2, c: 1, lx: 18, ly: 43, zL: 119, zR: 580, xMin: 10.3, xMax: 10.6, xTicks: [10.3, 10.35, 10.4, 10.45, 10.5, 10.55, 10.6], pMin: 10.289, pMax: 10.611, title: "19:9927721-10977067  (Mb)", tc: 349,
    gene: { name: "TYK2", s: 10.46, e: 10.491, side: "left", textZ: 357 }, rs: "rs11085727", rsSide: "left",
    tracks: [
      { name: "GWAS", top: 107, max: 5, ticks: [0, 5], cy: 112, d: { mass: hGMass, navy: hGNavy, cyan: hGCyan, green: hGGreen, red: hGRed, lead: hGLead } },
      { name: "TYK2 eQTL", top: 267, max: 5, ticks: [0, 5], cy: 268, d: { mass: hEMass, navy: hENavy, cyan: hECyan, green: hEGreen, red: hERed, lead: hELead } },
      { name: "coloc PP", top: 367, max: 1, ticks: [0, 0.5, 1], cy: 442, d: { cyan: hCCyan, green: hCGreen, red: hCRed, lead: hCLead } },
    ] },
  { letter: "I", r: 2, c: 2, lx: 50, ly: 43, zL: 125, zR: 585, xMin: 41.3, xMax: 41.7, xTicks: [41.3, 41.4, 41.5, 41.6, 41.7], pMin: 41.285, pMax: 41.716, title: "6:40997035-42005196  (Mb)", tc: 354,
    gene: { name: "FOXP4", s: 41.5139, e: 41.5704, side: "left", textZ: 364 }, rs: "rs1886814", rsSide: "left",
    tracks: [
      { name: "GWAS", top: 47, max: 8, ticks: [0, 2, 4, 6, 8], cy: 113, d: { mass: iGMass, navy: iGNavy, cyan: iGCyan, green: iGGreen, red: iGRed, lead: iGLead } },
      { name: "FOXP4 eQTL", top: 257, max: 5, ticks: [0, 5], cy: 270, d: { mass: iEMass, navy: iENavy, cyan: iECyan, green: iEGreen, red: iERed, lead: iELead } },
      { name: "coloc PP", top: 367, max: 1, ticks: [0, 0.5, 1], cy: 441, d: { green: iCGreen, red: iCRed, lead: iCLead } },
    ] },
  { letter: "J", r: 3, c: 0, lx: 18, ly: 47, zL: 112, zR: 590, xMin: 43.6, xMax: 44.744, xTicks: [43.6, 43.8, 44, 44.2, 44.4, 44.6], pMin: 43.559, pMax: 44.38, title: "17:43205356-45363133  (Mb)", tc: 342,
    gene: { name: "LRRC37A", s: 44.373, e: 44.42, side: "left", textZ: 426 }, rs: "rs7221167", rsSide: "right",
    tracks: [
      { name: "GWAS", top: 85, max: 6, ticks: [0, 2, 4, 6], cy: 121, d: { strip: jGStrip, mass: jGMass, navy: jGNavy, cyan: jGCyan, green: jGGreen, lead: jGLead } },
      { name: "LRRC37A eQTL", top: 221, max: 30, ticks: [0, 10, 20, 30], cy: 274, d: { strip: jEStrip, mass: jEMass, navy: jENavy, cyan: jECyan, green: jEGreen, lead: jELead } },
      { name: "coloc PP", top: 374, max: 1, ticks: [0, 0.5, 1], cy: 449, d: { strip: jCStrip, cyan: jCCyan, green: jCGreen, lead: jCLead } },
    ] },
  { letter: "K", r: 3, c: 1, lx: 18, ly: 47, zL: 119, zR: 580, xMin: 154.95, xMax: 155.3, xTicks: [154.95, 155, 155.05, 155.1, 155.15, 155.2, 155.25, 155.3], pMin: 154.937, pMax: 155.313, title: "1:154605882-155673527  (Mb)", tc: 349,
    gene: { name: "FAM189B", s: 155.2157, e: 155.2248, side: "left", textZ: 461 }, rs: "rs4971066", rsSide: "left",
    tracks: [
      { name: "GWAS", top: 110, max: 5, ticks: [0, 5], cy: 121, d: { mass: kGMass, navy: kGNavy, cyan: kGCyan, orange: kGOrange, red: kGRed, lead: kGLead } },
      { name: "FAM189B eQTL", top: 205, max: 6, ticks: [0, 2, 4, 6], cy: 273, d: { mass: kEMass, navy: kENavy, cyan: kECyan, orange: kEOrange, red: kERed, lead: kELead } },
      { name: "coloc PP", top: 374, max: 1, ticks: [0, 0.5, 1], cy: 450, d: { cyan: kCCyan, orange: kCOrange, red: kCRed, lead: kCLead } },
    ] },
];

const axisStyle = { color: "#555", width: 0.7 };

function buildOption() {
  const grid: any[] = [], xAxis: any[] = [], yAxis: any[] = [], series: any[] = [], graphic: any[] = [];

  const text = (t: string, x: number, y: number, size: number, extra: any = {}, rot = 0) => ({
    type: "text", x, y, rotation: rot, silent: true,
    style: { text: t, fontFamily: FONT, fontSize: size, fill: INK, textAlign: "center", textVerticalAlign: "middle", ...extra },
  });

  panels.forEach((p) => {
    const row = rows[p.r], col = cols[p.c];
    const px = (z: number) => col.bx + z / 3;
    const py = (z: number) => row.by + z / 3;
    const L = px(p.zL), R = px(p.zR);

    graphic.push(text(p.letter, px(p.lx), py(p.ly), 16, { fontWeight: "bold", fill: "#000", textAlign: "left" }));
    graphic.push(text(p.title, px(p.tc), py(row.title), 8.9));

    const bottoms = [row.g, row.e, row.c];
    p.tracks.forEach((t: any, i: number) => {
      const idx = grid.length;
      const T = py(t.top), B = py(bottoms[i]);
      grid.push({ left: L, top: T, width: R - L, height: B - T });
      xAxis.push({ gridIndex: idx, type: "value", min: p.xMin, max: p.xMax, show: false, splitLine: { show: false } });
      yAxis.push({
        gridIndex: idx, type: "value", min: 0, max: t.max, position: "left", offset: L - px(col.axis),
        axisLine: { show: true, onZero: false, lineStyle: axisStyle },
        axisTick: { show: true, length: 2.5, customValues: t.ticks, lineStyle: axisStyle },
        axisLabel: { customValues: t.ticks, fontSize: 5.5, color: "#333", margin: 2.5, fontFamily: FONT },
        splitLine: { show: false },
      });
      graphic.push(text(t.name, px(col.label), py(t.cy), 8.4, {}, Math.PI / 2));

      const d: Track = t.d;
      const common = { xAxisIndex: idx, yAxisIndex: idx, silent: true, animation: false };
      series.push({
        ...common, type: "line", name: "strip" + p.letter + i, showSymbol: false, symbol: "none", clip: false,
        data: d.strip || [[p.pMin, 0], [p.pMax, 0]],
        lineStyle: { color: MASS, width: 4.5, cap: "butt" }, z: 1,
      });
      if (d.mass) {
        series.push({
          ...common, type: "line", name: "mass" + p.letter + i, showSymbol: false, symbol: "none", clip: false,
          data: d.mass, lineStyle: { width: 0, opacity: 0 }, areaStyle: { color: MASS, opacity: 1 }, z: 1,
        });
      }
      const groups = [
        [...(d.mass || []), ...(d.navy || [])], d.cyan || [], d.green || [], d.orange || [], d.red || [],
      ];
      groups.forEach((g, k) => {
        series.push({
          ...common, type: "scatter", name: bands[k], clip: false, symbol: "circle", symbolSize: 4.5,
          data: g, itemStyle: { color: bandColors[k], borderColor: "#111", borderWidth: 0.45, opacity: 1 }, z: 3 + k,
        });
      });
      const isColoc = i === 2;
      series.push({
        ...common, type: "scatter", name: "lead" + p.letter + i, clip: false, symbol: "diamond", symbolSize: 9,
        data: d.lead,
        itemStyle: { color: MAGENTA, borderColor: "#777", borderWidth: 0.6, opacity: 1 }, z: t.under ? 2 : 9,
        label: isColoc ? { show: true, position: p.rsSide, distance: 0.5, formatter: () => p.rs, fontSize: 8.3, color: INK, fontFamily: FONT } : { show: false },
      });
    });

    // Gene track and x axis
    const idx = grid.length;
    const gridTopZ = row.gt - 3;
    const span = row.line - gridTopZ;
    const top = (row.line - row.gt) / span, bot = (row.line - row.gb) / span;
    grid.push({ left: L, top: py(gridTopZ), width: R - L, height: (row.line - gridTopZ) / 3 });
    xAxis.push({
      gridIndex: idx, type: "value", min: p.xMin, max: p.xMax, position: "bottom",
      axisLine: { show: true, onZero: false, lineStyle: axisStyle },
      axisTick: { show: true, length: 3, customValues: p.xTicks, lineStyle: axisStyle },
      axisLabel: { customValues: p.xTicks, fontSize: 5.3, color: "#333", margin: 5, fontFamily: FONT },
      splitLine: { show: false },
    });
    yAxis.push({ gridIndex: idx, type: "value", min: 0, max: 1, show: false, splitLine: { show: false } });
    const g = p.gene;
    series.push({
      type: "custom", name: "gene" + p.letter, xAxisIndex: idx, yAxisIndex: idx, silent: true, clip: true, animation: false,
      data: [[g.s, top]],
      renderItem: (_: any, api: any) => {
        const a = api.coord([g.s, top]), b = api.coord([g.e, bot]);
        const tx = px(g.textZ);
        const thin = b[0] - a[0] < 0.4;
        return {
          type: "group",
          children: [
            {
              type: "rect", shape: { x: a[0], y: a[1], width: b[0] - a[0], height: b[1] - a[1] },
              style: { fill: g.grey ? "#8a8a8a" : "#dcdcdc", stroke: thin ? "#444" : g.grey ? "#8a8a8a" : "#6a6a6a", lineWidth: thin ? 0.6 : 0.9 },
            },
            {
              type: "text",
              style: {
                text: g.name, x: tx, y: (a[1] + b[1]) / 2, textAlign: g.side === "left" ? "right" : "left", textVerticalAlign: "middle",
                fontFamily: FONT, fontStyle: "italic", fontSize: 6.6, fill: INK,
              },
            },
          ],
        };
      },
    });
  });

  graphic.push(text("LD (r2)", 400 + 174 / 3, 675 + 100 / 3, 8.4));

  return {
    animation: false,
    backgroundColor: "#fff",
    textStyle: { fontFamily: FONT },
    grid, xAxis, yAxis, series, graphic,
    legend: {
      show: true, selectedMode: false, orient: "vertical", left: 437.7, top: 727, itemWidth: 8, itemHeight: 8, itemGap: 14, padding: 0,
      icon: "circle",
      data: bands.map((b, i) => ({ name: b, itemStyle: { color: bandColors[i], borderColor: "#333", borderWidth: 0.5 } })),
      textStyle: { fontSize: 8.2, color: INK, fontFamily: FONT, padding: [0, 0, 0, 10] },
    },
  };
}

export default function App() {
  const ref = useRef<HTMLDivElement>(null);
  useEffect(() => {
    document.body.style.margin = "0";
    const chart = echarts.init(ref.current!, undefined, { renderer: "svg" });
    chart.setOption(buildOption() as any);
    return () => chart.dispose();
  }, []);
  return <div ref={ref} style={{ width: 606, height: 900, filter: "blur(0.35px)" }} />;
}
